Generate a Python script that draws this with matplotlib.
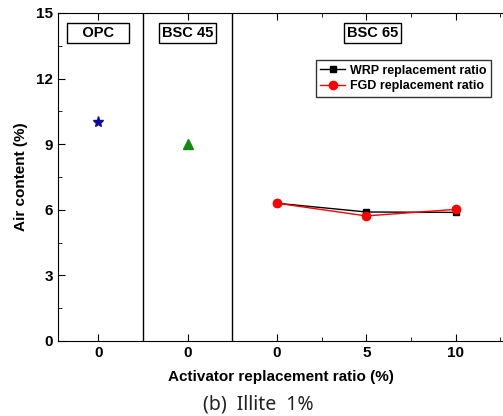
import matplotlib.pyplot as plt
from matplotlib.ticker import MultipleLocator

plt.rcParams['font.family'] = ['Liberation Sans', 'DejaVu Sans']

# data
groups = ["OPC", "BSC 45", "BSC 65"]
tick_labels = ["0", "0", "0", "5", "10"]
opc_air = [10.0]
bsc45_air = [9.0]
wrp_air = [6.3, 5.9, 5.88]
fgd_air = [6.3, 5.72, 6.02]

fig = plt.figure(figsize=(5.03, 4.16), dpi=100)
ax = fig.add_axes([0.1153, 0.1803, 0.8847, 0.7885])

pos = list(range(len(tick_labels)))
ax.plot([pos[0]], opc_air, linestyle='none', marker='*', color='#0a0aa0', markersize=8)
ax.plot([pos[1]], bsc45_air, linestyle='none', marker='^', color='#108a10', markersize=7)
ax.plot(pos[2:], wrp_air, color='black', marker='s', markersize=5, linewidth=1,
        label='WRP replacement ratio')
ax.plot(pos[2:], fgd_air, color='red', marker='o', markersize=6, linewidth=1,
        label='FGD replacement ratio')

# group separators
ax.axvline(0.5, color='black', linewidth=1)
ax.axvline(1.5, color='black', linewidth=1)

ax.set_xlim(-0.45, 4.53)
ax.set_ylim(0, 15)
ax.set_xticks(pos)
ax.set_xticklabels(tick_labels)
ax.xaxis.set_minor_locator(MultipleLocator(0.5))
ax.yaxis.set_major_locator(MultipleLocator(3))
ax.yaxis.set_minor_locator(MultipleLocator(1.5))
ax.tick_params(which='both', direction='in', top=True, right=False, labelsize=11)
ax.tick_params(which='major', length=5)
ax.tick_params(which='minor', length=3)
for lab in ax.get_xticklabels() + ax.get_yticklabels():
    lab.set_fontweight('bold')
ax.spines['right'].set_visible(False)

box = dict(boxstyle='square,pad=0.2', facecolor='white', edgecolor='black', linewidth=1)
ax.text(0.0, 14.1, "   " + groups[0] + "   ", ha='center', va='center', fontsize=10.5,
        fontweight='bold', bbox=box)
ax.text(1.0, 14.1, groups[1], ha='center', va='center', fontsize=10.5,
        fontweight='bold', bbox=box)
ax.text(3.07, 14.1, groups[2], ha='center', va='center', fontsize=10.5,
        fontweight='bold', bbox=box)

leg = ax.legend(loc='upper right', bbox_to_anchor=(0.973, 0.856), fontsize=9,
                frameon=True, fancybox=False, edgecolor='black', borderpad=0.35,
                borderaxespad=0, handlelength=2.0, handletextpad=0.4,
                labelspacing=0.3)
leg.get_frame().set_linewidth(1)
for t in leg.get_texts():
    t.set_fontweight('bold')

ax.set_ylabel("Air content (%)", fontsize=11, fontweight='bold', labelpad=6)
ax.set_xlabel("Activator replacement ratio (%)", fontsize=11, fontweight='bold', labelpad=7)

fig.text(0.513, 0.027, "(b)  Illite  1%", ha='center', va='center', fontsize=14,
         family=['Noto Sans', 'DejaVu Sans'], color='#222222')

fig.savefig("out.png", dpi=100)
